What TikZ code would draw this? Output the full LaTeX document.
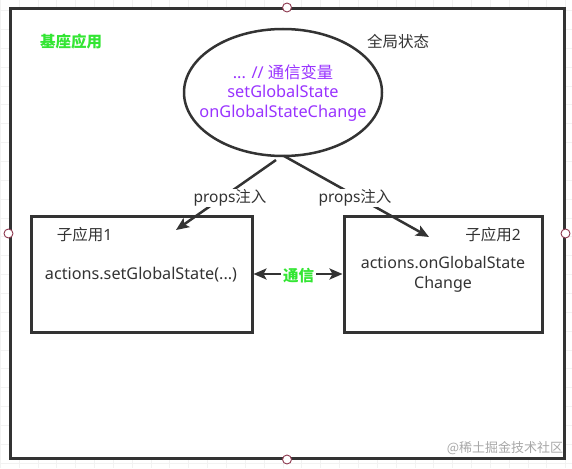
\documentclass[tikz,border=0pt]{standalone}
\usepackage{fontspec}
\setmainfont{Noto Sans}
\newfontfamily\cjk{Noto Sans CJK SC}
\usetikzlibrary{arrows.meta,shapes.geometric}
\definecolor{linec}{HTML}{333333}
\definecolor{greentxt}{HTML}{33E633}
\definecolor{purp}{HTML}{9933FF}
\definecolor{dotc}{HTML}{8E3A50}
\definecolor{gridc}{HTML}{F2F2F2}
\definecolor{wmark}{HTML}{A8A8A8}
\tikzset{
  frame/.style={draw=linec, line width=3pt, fill=white, inner sep=0pt},
  subbox/.style={draw=linec, line width=3pt, fill=white, inner sep=0pt},
  connpt/.style={circle, draw=dotc, fill=white, line width=0.9pt, minimum size=9pt, inner sep=0pt},
  lbl/.style={text=linec, font=\fontsize{15.5}{19}\selectfont, inner sep=1pt},
  arr/.style={draw=linec, line width=2.5pt, -{Stealth[length=13pt,width=11pt,inset=3pt]}},
  darr/.style={draw=linec, line width=2.5pt, {Stealth[length=13pt,width=11pt,inset=3pt]}-{Stealth[length=13pt,width=11pt,inset=3pt]}},
}
\begin{document}
\begin{tikzpicture}[x=1pt,y=-1pt]
\useasboundingbox (0,0) rectangle (572,468);
\fill[white] (0,0) rectangle (572,468);
% background grid
\foreach \i in {0,...,30} {
  \draw[gridc, line width=0.7pt] ({0.15+18.85*\i},0) -- ++(0,468);
  \draw[gridc, line width=0.7pt] (0,{463-18.85*\i}) -- ++(572,0);
}
% outer frame
\node (outer) [frame, minimum width=554pt, minimum height=449pt] at (287,233.5) {};
\node[connpt] (pN) at (outer.north) {};
\node[connpt] (pS) at (outer.south) {};
\node[connpt] (pW) at (outer.west) {};
\node[connpt] (pE) at (outer.east) {};
% titles
\node (base) [text=greentxt, font=\cjk\bfseries\fontsize{15.5}{19}\selectfont, inner sep=0pt] at (71,42) {基座应用};
\node (glab) [lbl, font=\cjk\fontsize{15.5}{19}\selectfont] at (398,42) {全局状态};
% global state ellipse
\node (gs) [ellipse, draw=linec, line width=2.5pt, minimum width=198pt, minimum height=127pt, inner sep=0pt] at (283,92.5) {};
\node (gst) [text=purp, align=center, font=\fontsize{16.3}{19.5}\selectfont, inner sep=0pt] at (283,93)
  {... // {\cjk 通信变量}\\setGlobalState\\onGlobalStateChange};
% sub apps
\node (app1) [subbox, minimum width=221pt, minimum height=116pt] at (141.5,274) {};
\node (app2) [subbox, minimum width=198pt, minimum height=116pt] at (443,274) {};
\node (t1) [lbl] at (84.5,235) {{\cjk 子应用}1};
\node (t2) [lbl] at (493,235) {{\cjk 子应用}2};
\node (a1) [lbl, font=\fontsize{16.2}{20}\selectfont] at (141,275) {actions.setGlobalState(...)};
\node (a2) [lbl, align=center, font=\fontsize{16}{20}\selectfont] at (443,274) {actions.onGlobalState\\Change};
% props injection arrows
\coordinate (l1s) at (276,160);
\coordinate (l1e) at (176,230);
\coordinate (r1s) at (284,156);
\coordinate (r1e) at (429,237);
\draw[arr] (l1s) -- (l1e);
\draw[arr] (r1s) -- (r1e);
\node (p1) [lbl, fill=white] at (230,198) {props{\cjk 注入}};
\node (p2) [lbl, fill=white] at (355,198) {props{\cjk 注入}};
% communication
\draw[darr] (app1.east) -- (app2.west);
\node (comm) [text=greentxt, fill=white, font=\cjk\bfseries\fontsize{15.5}{19}\selectfont, inner sep=2pt] at (298.5,276) {通信};
% watermark
\node (wm) [text=wmark, font=\cjk\fontsize{13}{15}\selectfont, inner sep=0pt] at (505,448) {@稀土掘金技术社区};
\end{tikzpicture}
\end{document}
